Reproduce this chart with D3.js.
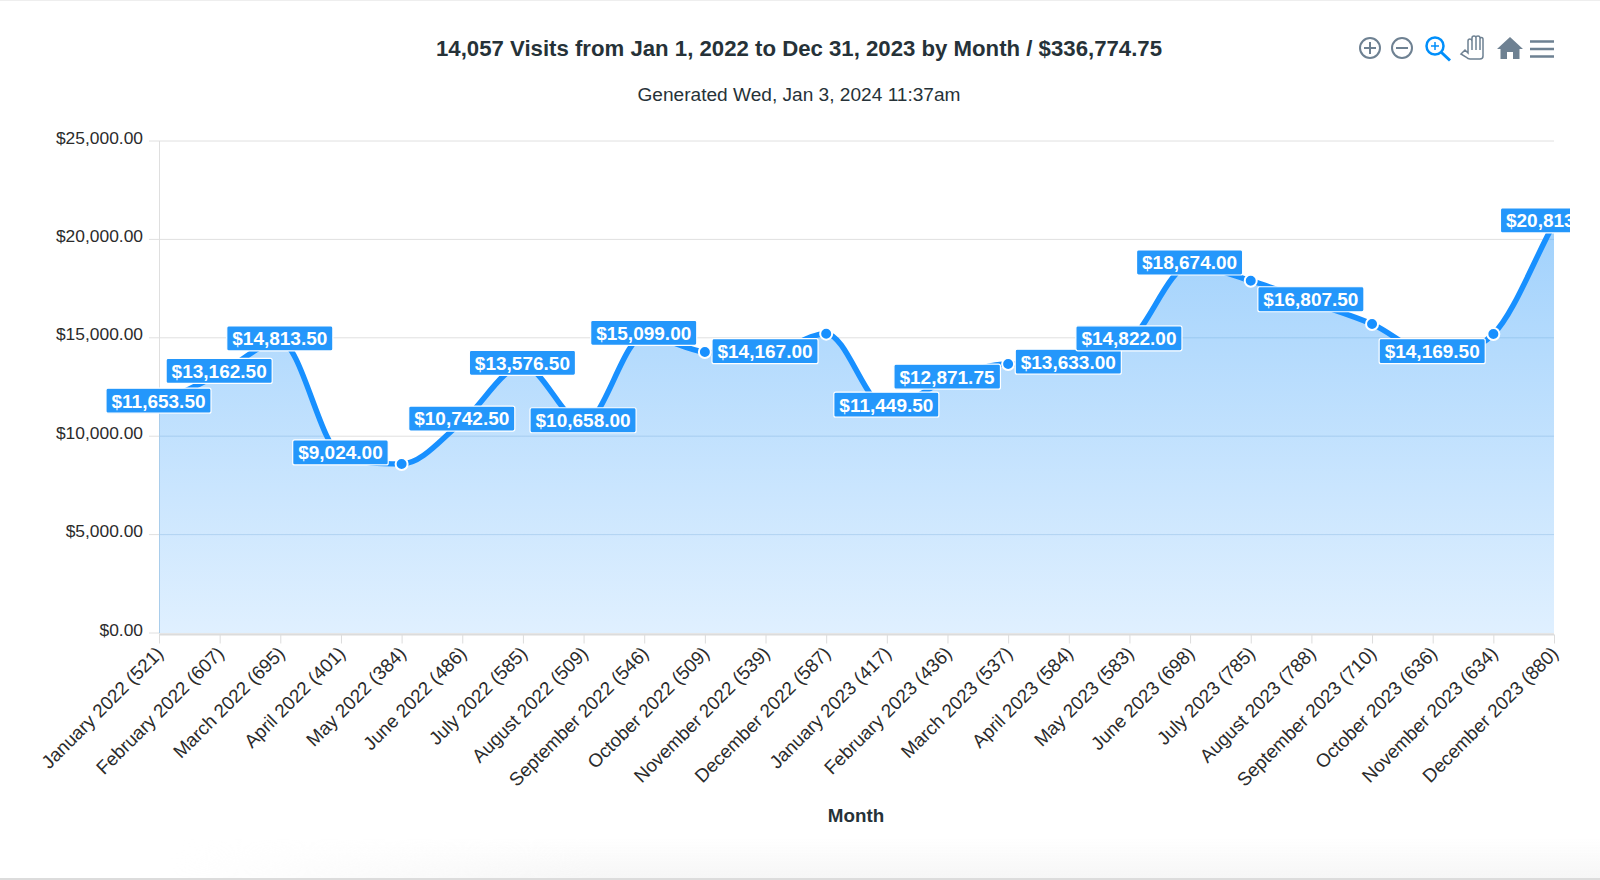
<!DOCTYPE html>
<html>
<head>
<meta charset="utf-8">
<script src="https://cdnjs.cloudflare.com/ajax/libs/d3/7.8.5/d3.min.js"></script>
<style>
  html, body { margin: 0; padding: 0; background: #fff; }
  svg { display: block; font-family: "Liberation Sans", Arial, sans-serif; }
</style>
</head>
<body>
<svg id="chart" width="1600" height="880"></svg>
<script>
const months = ["January 2022","February 2022","March 2022","April 2022","May 2022","June 2022","July 2022","August 2022","September 2022","October 2022","November 2022","December 2022","January 2023","February 2023","March 2023","April 2023","May 2023","June 2023","July 2023","August 2023","September 2023","October 2023","November 2023","December 2023"];
const visits = [521,607,695,401,384,486,585,509,546,509,539,587,417,436,537,584,583,698,785,788,710,636,634,880];
const revenue = [11653.5,13162.5,14813.5,9024,8590,10742.5,13576.5,10658,15099,14280,14167,15210,11449.5,12871.75,13670,13633,14822,18674,17900,16807.5,15700,14169.5,15190,20813];
// Points whose value label is suppressed to avoid crowding
const unlabeled = ["May 2022","October 2022","December 2022","March 2023","July 2023","September 2023","November 2023"];
const yTicks = [0,5000,10000,15000,20000,25000];

// Fritsch-Carlson monotone cubic interpolation as a d3 curve factory
function fritschCarlson(context) {
  let pts = [], flag = NaN;
  return {
    areaStart() { flag = 0; },
    areaEnd() { flag = NaN; },
    lineStart() { pts = []; },
    point(px, py) { pts.push([+px, +py]); },
    lineEnd() {
      const n = pts.length;
      const dl = [];
      for (let i = 0; i < n - 1; i++) dl.push((pts[i + 1][1] - pts[i][1]) / (pts[i + 1][0] - pts[i][0]));
      const m = new Array(n).fill(0);
      m[0] = dl[0]; m[n - 1] = dl[n - 2];
      for (let i = 1; i < n - 1; i++) m[i] = dl[i - 1] * dl[i] <= 0 ? 0 : (dl[i - 1] + dl[i]) / 2;
      for (let i = 0; i < n - 1; i++) {
        if (dl[i] === 0) { m[i] = 0; m[i + 1] = 0; continue; }
        const a = m[i] / dl[i], b = m[i + 1] / dl[i], s = a * a + b * b;
        if (s > 9) { const t = 3 / Math.sqrt(s); m[i] = t * a * dl[i]; m[i + 1] = t * b * dl[i]; }
      }
      if (flag === 1) context.lineTo(pts[0][0], pts[0][1]);
      else context.moveTo(pts[0][0], pts[0][1]);
      for (let i = 0; i < n - 1; i++) {
        const h = (pts[i + 1][0] - pts[i][0]) / 3;
        context.bezierCurveTo(pts[i][0] + h, pts[i][1] + h * m[i],
          pts[i + 1][0] - h, pts[i + 1][1] - h * m[i + 1], pts[i + 1][0], pts[i + 1][1]);
      }
      if (flag === 1) context.closePath();
      flag = 1 - flag;
    }
  };
}

const svg = d3.select("#chart");
const plot = { left: 159, right: 1554, top: 141, bottom: 633 };
const lineColor = "#1890ff";

const x = d3.scalePoint().domain(months).range([plot.left, plot.right]);
const y = d3.scaleLinear().domain([0, 25000]).range([plot.bottom, plot.top]);
const money = v => "$" + d3.format(",.2f")(v);
const rows = months.map((m, i) => ({ month: m, visits: visits[i], value: revenue[i] }));

const area = d3.area().x(d => x(d.month)).y0(plot.bottom).y1(d => y(d.value)).curve(fritschCarlson);
const line = d3.line().x(d => x(d.month)).y(d => y(d.value)).curve(fritschCarlson);

const defs = svg.append("defs");
const grad = defs.append("linearGradient").attr("id", "areaFill")
  .attr("gradientUnits", "userSpaceOnUse")
  .attr("x1", 0).attr("x2", 0).attr("y1", y(20813)).attr("y2", plot.bottom);
grad.append("stop").attr("offset", 0).attr("stop-color", "#9ccffc");
grad.append("stop").attr("offset", 1).attr("stop-color", "#deefff");
defs.append("clipPath").attr("id", "frameClip").append("rect")
  .attr("x", 0).attr("y", 0).attr("width", 1570).attr("height", 880);
defs.append("clipPath").attr("id", "areaClip").append("path").datum(rows).attr("d", area);

// Page frame with a soft shadow along the lower edge
svg.append("rect").attr("width", 1600).attr("height", 880).attr("fill", "#fff");
const fade = defs.append("linearGradient").attr("id", "edgeFade").attr("x1", 0).attr("x2", 0).attr("y1", 0).attr("y2", 1);
fade.append("stop").attr("offset", 0).attr("stop-color", "#f6f6f6").attr("stop-opacity", 0);
fade.append("stop").attr("offset", 1).attr("stop-color", "#f6f6f6");
const fadeSide = defs.append("linearGradient").attr("id", "edgeSide")
  .attr("gradientUnits", "userSpaceOnUse").attr("x1", 170).attr("x2", 600).attr("y1", 0).attr("y2", 0);
fadeSide.append("stop").attr("offset", 0).attr("stop-color", "#000");
fadeSide.append("stop").attr("offset", 1).attr("stop-color", "#fff");
defs.append("mask").attr("id", "edgeMask").attr("maskUnits", "userSpaceOnUse")
  .attr("x", 0).attr("y", 830).attr("width", 1600).attr("height", 50)
  .append("rect").attr("x", 0).attr("y", 830).attr("width", 1600).attr("height", 50).attr("fill", "url(#edgeSide)");
svg.append("rect").attr("x", 0).attr("y", 838).attr("width", 1600).attr("height", 40)
  .attr("fill", "url(#edgeFade)").attr("mask", "url(#edgeMask)");
svg.append("rect").attr("x", 0).attr("y", 878).attr("width", 1600).attr("height", 2).attr("fill", "#dcdcdc");
svg.append("rect").attr("x", 0).attr("y", 0).attr("width", 1600).attr("height", 1).attr("fill", "#eeeeee");

// Horizontal grid and left axis
svg.append("g").selectAll("line").data(yTicks).join("line")
  .attr("x1", plot.left - 10).attr("x2", plot.right)
  .attr("y1", d => y(d)).attr("y2", d => y(d))
  .attr("stroke", "#e0e0e0").attr("stroke-width", 1);
svg.append("line").attr("x1", plot.left + 0.5).attr("x2", plot.left + 0.5)
  .attr("y1", plot.top).attr("y2", plot.bottom).attr("stroke", "#dfdfdf");

const yAxis = d3.axisLeft(y).tickValues(yTicks).tickFormat(money).tickSize(0).tickPadding(0);
const yG = svg.append("g").attr("transform", `translate(${plot.left - 16},0)`).call(yAxis);
yG.select(".domain").remove();
yG.selectAll("text").attr("font-size", 17.4).attr("fill", "#2b2b2b").attr("dy", "0.12em");

// Area and line
svg.append("path").datum(rows).attr("d", area).attr("fill", "url(#areaFill)").attr("fill-opacity", 0.95);
// Grid lines show through the translucent fill
svg.append("g").attr("clip-path", "url(#areaClip)").selectAll("line")
  .data(yTicks.filter(d => d > 0 && d <= 20000)).join("line")
  .attr("x1", plot.left).attr("x2", plot.right).attr("y1", d => y(d)).attr("y2", d => y(d))
  .attr("stroke", "#6aa6dc").attr("stroke-opacity", 0.3);
svg.append("line").attr("x1", plot.left + 0.5).attr("x2", plot.left + 0.5)
  .attr("y1", y(11653.5)).attr("y2", plot.bottom).attr("stroke", "#a9cdeb");
svg.append("path").datum(rows).attr("d", line).attr("fill", "none")
  .attr("stroke", lineColor).attr("stroke-width", 5.5).attr("stroke-linecap", "butt");

// Bottom axis
svg.append("line").attr("x1", plot.left).attr("x2", plot.right)
  .attr("y1", plot.bottom + 1.5).attr("y2", plot.bottom + 1.5).attr("stroke", "#dcdcdc").attr("stroke-width", 2);
const xAxis = d3.axisBottom(x).tickSize(9).tickPadding(0)
  .tickFormat(m => `${m} (${visits[months.indexOf(m)]})`);
const xG = svg.append("g").attr("transform", `translate(0,${plot.bottom + 1.5})`).call(xAxis);
xG.select(".domain").remove();
xG.selectAll("line").attr("stroke", "#dcdcdc");
xG.selectAll("text")
  .attr("font-size", 18.8).attr("fill", "#2b2b2b")
  .attr("text-anchor", "end").attr("dy", 0).attr("y", 0)
  .attr("transform", "translate(5,20) rotate(-45)");

// Markers
svg.append("g").selectAll("circle").data(rows).join("circle")
  .attr("cx", d => x(d.month)).attr("cy", d => y(d.value)).attr("r", 6)
  .attr("fill", lineColor).attr("stroke", "#fff").attr("stroke-width", 2);

// Value labels, each tag sized to its text
const labelG = svg.append("g").attr("clip-path", "url(#frameClip)");
const labeled = rows.filter(d => !unlabeled.includes(d.month));
const tags = labelG.selectAll("g").data(labeled).join("g")
  .attr("transform", d => `translate(${x(d.month) - 0.5},${y(d.value) - 3})`);
const tagText = tags.append("text").attr("text-anchor", "middle").attr("dy", "0.36em")
  .attr("font-size", 19).attr("font-weight", 700).attr("fill", "#fff").text(d => money(d.value));
tags.insert("rect", "text").each(function() {
  const box = this.parentNode.querySelector("text").getBBox();
  d3.select(this).attr("x", box.x - 5.5).attr("width", box.width + 11);
}).attr("y", -12.5).attr("height", 25).attr("rx", 2)
  .attr("fill", "#2497fb").attr("stroke", "#fff").attr("stroke-width", 1.2);

// Titles
svg.append("text").attr("x", 799).attr("y", 56).attr("text-anchor", "middle")
  .attr("font-size", 22.2).attr("font-weight", 700).attr("fill", "#263238")
  .text("14,057 Visits from Jan 1, 2022 to Dec 31, 2023 by Month / $336,774.75");
svg.append("text").attr("x", 799).attr("y", 101).attr("text-anchor", "middle")
  .attr("font-size", 19.1).attr("fill", "#263238").text("Generated Wed, Jan 3, 2024 11:37am");
svg.append("text").attr("x", 856).attr("y", 822).attr("text-anchor", "middle")
  .attr("font-size", 18.8).attr("font-weight", 700).attr("fill", "#263238").text("Month");

// Toolbar icons
const tool = svg.append("g").attr("fill", "none").attr("stroke", "#6e8192").attr("stroke-width", 2);
const plus = tool.append("g").attr("transform", "translate(1370,48)");
plus.append("circle").attr("r", 10);
plus.append("path").attr("d", "M-6 0H6M0 -6V6");
const minus = tool.append("g").attr("transform", "translate(1402,48)");
minus.append("circle").attr("r", 10);
minus.append("path").attr("d", "M-6 0H6");
const zoomIcon = tool.append("g").attr("transform", "translate(1435,46)").attr("stroke", "#008ffb");
zoomIcon.append("circle").attr("r", 8.5).attr("stroke-width", 2.5);
zoomIcon.append("path").attr("d", "M-4 0H4M0 -4V4").attr("stroke-width", 1.5);
zoomIcon.append("path").attr("d", "M6.5 6.5L15 14.5").attr("stroke-width", 3);
tool.append("path").attr("stroke-width", 1.5)
  .attr("d", "M1461 54 L1465 50 L1468 53 V41 Q1468 39 1470 39 Q1471.5 39 1472 41 V38 Q1472 36 1474 36 Q1476 36 1476 38 V37 Q1476 36 1478 36 Q1480 36 1480 38 V39 Q1480 37.5 1481.5 37.5 Q1483 37.5 1483 39.5 V56 Q1483 59 1480 59 H1470 Q1468 59 1466 57 Z M1472 41 V50 M1476 38 V50 M1480 39 V50");
tool.append("path").attr("fill", "#6e8192").attr("stroke", "none")
  .attr("d", "M1510 37 L1523 49 H1519.5 V59 H1513 V52 H1507 V59 H1500.5 V49 H1497 Z");
tool.append("path").attr("stroke-width", 2.6).attr("d", "M1530 41.5H1554M1530 49H1554M1530 56.5H1554");
</script>
</body>
</html>
